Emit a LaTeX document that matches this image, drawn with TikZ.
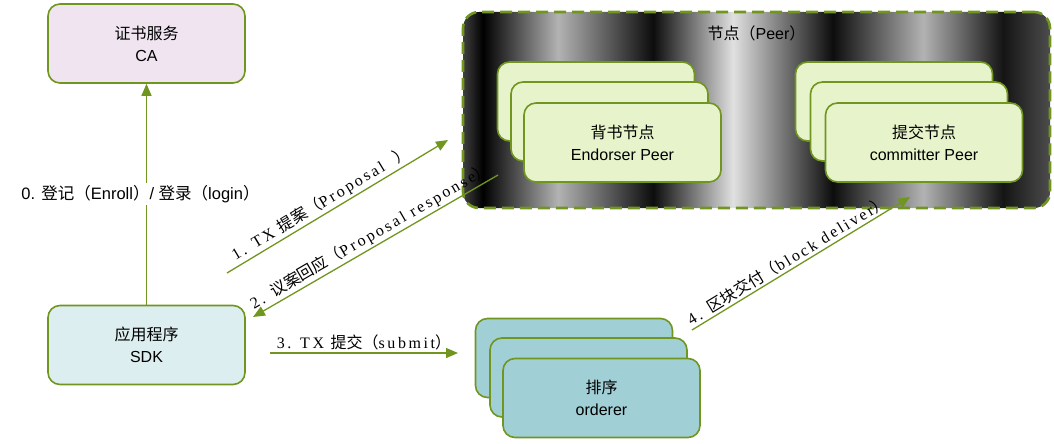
\documentclass[tikz,border=0pt]{standalone}
\usepackage{fontspec}
\setmainfont{Liberation Sans}
\newfontfamily\cjk{Noto Sans CJK SC}
\newfontfamily\lblfont[LetterSpace=16]{Liberation Serif}
\usetikzlibrary{arrows.meta}

\newcommand{\zh}[1]{{\cjk #1}}

\definecolor{edgegreen}{RGB}{112,150,32}
\definecolor{cafill}{RGB}{239,228,240}
\definecolor{sdkfill}{RGB}{221,238,241}
\definecolor{peerfill}{RGB}{231,243,202}
\definecolor{ordfill}{RGB}{160,207,214}

\pgfdeclarehorizontalshading{peerbg}{100bp}{
  color(0bp)=(black!75); color(25bp)=(black!75); color(26.7bp)=(black);
  color(33.1bp)=(black!30); color(41.2bp)=(black!95); color(48bp)=(black!12);
  color(56.5bp)=(black!95); color(64.2bp)=(black!30); color(71bp)=(black!92);
  color(75bp)=(black!70); color(100bp)=(black!70)}

\tikzset{
  box/.style={draw=edgegreen, line width=1.6pt, rounded corners=12pt,
    minimum width=197pt, minimum height=79pt, inner sep=0pt, align=center,
    font=\fontsize{16}{22}\selectfont},
  flow/.style={draw=edgegreen, line width=1.3pt, -{Triangle[length=12pt,width=10pt]}},
  flowlabel/.style={font=\fontsize{16}{18}\selectfont, sloped, above, inner sep=2pt},
}

\begin{document}
\begin{tikzpicture}[x=1pt,y=-1pt]
\useasboundingbox (0,0) rectangle (1054,444);

% CA and application
\node[box, fill=cafill] (ca) at (146.5,43.5) {\zh{证书服务}\\CA};
\node[box, fill=sdkfill] (sdk) at (146.5,345) {\zh{应用程序}\\SDK};

% peer group
\node[draw=edgegreen, line width=2.6pt, dash pattern=on 12pt off 6pt,
  rounded corners=16pt, shade, shading=peerbg,
  minimum width=587pt, minimum height=196pt] (peer) at (756.5,110) {};
\node[font=\fontsize{16}{20}\selectfont] (peertitle) at (756.5,33) {\zh{节点（}Peer\zh{）}};

\node[box, fill=peerfill] (endorser3) at (596,101.5) {};
\node[box, fill=peerfill] (endorser2) at (609.5,121.5) {};
\node[box, fill=peerfill] (endorser) at (622.5,142.5) {\zh{背书节点}\\Endorser Peer};

\node[box, fill=peerfill] (committer3) at (894,101.5) {};
\node[box, fill=peerfill] (committer2) at (909,121.5) {};
\node[box, fill=peerfill] (committer) at (924,142.5) {\zh{提交节点}\\committer Peer};

% orderer
\node[box, fill=ordfill] (orderer3) at (574,358) {};
\node[box, fill=ordfill] (orderer2) at (588.5,377.5) {};
\node[box, fill=ordfill] (orderer) at (601.5,398) {\zh{排序}\\orderer};

% flow ends
\coordinate (propose-out) at (227,273);
\coordinate (propose-in) at (448,140);
\coordinate (response-out) at (498,175);
\coordinate (response-in) at (253,317);
\coordinate (submit-out) at (270,353);
\coordinate (submit-in) at (458,353);
\coordinate (deliver-out) at (692,330);
\coordinate (deliver-in) at (910,197);

\draw[flow] (sdk) -- node[pos=0.5, xshift=-6pt, fill=white, inner sep=2pt,
  font=\fontsize{16.5}{18}\selectfont] (enrolllabel)
  {0. \zh{登记（}Enroll\zh{）}/ \zh{登录（}login\zh{）}} (ca);
\draw[flow] (propose-out) -- node[flowlabel, pos=0.45] (proposelabel)
  {\lblfont 1. TX \zh{提案（}Proposal\ \ \zh{）}} (propose-in);
\draw[flow] (response-out) -- node[flowlabel, pos=0.5] (responselabel)
  {\lblfont 2. \zh{议案回应（}Proposal response\zh{）}} (response-in);
\draw[flow] (submit-out) -- node[flowlabel, pos=0.5] (submitlabel)
  {\lblfont 3. TX \zh{提交（}submit\zh{）}} (submit-in);
\draw[flow] (deliver-out) -- node[flowlabel, pos=0.46] (deliverlabel)
  {\lblfont 4. \zh{区块交付（}block deliver\zh{）}} (deliver-in);
\end{tikzpicture}
\end{document}
